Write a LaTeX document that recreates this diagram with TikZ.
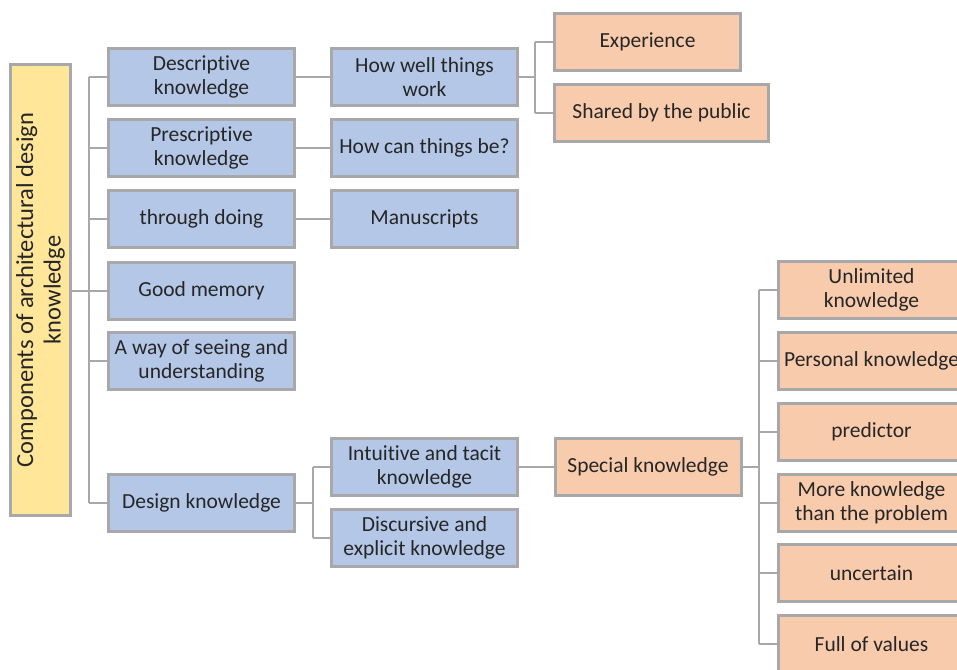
\documentclass[tikz,border=0pt]{standalone}
\usepackage{fontspec}
\setmainfont{Carlito}[Ligatures={NoCommon}]
\begin{document}
\begin{tikzpicture}[x=1pt,y=-1pt,
  font=\fontsize{21.5}{24}\selectfont,
  box/.style={draw=boxline,line width=3pt,text=txt,align=center,inner sep=0pt,
    minimum width=186pt,minimum height=57pt},
  bluebox/.style={box,fill=bluefill},
  orangebox/.style={box,fill=orangefill},
  conn/.style={draw=boxline,line width=2pt}]
\definecolor{boxline}{HTML}{A8A8AB}
\definecolor{bluefill}{HTML}{B4C7E7}
\definecolor{orangefill}{HTML}{F8CBAD}
\definecolor{yellowfill}{HTML}{FFE699}
\definecolor{txt}{HTML}{262626}
\useasboundingbox (0,0) rectangle (957,669);
\clip (0,0) rectangle (957,669);
\fill[white] (0,0) rectangle (957,669);

% root
\node[box,fill=yellowfill,minimum width=60pt,minimum height=451pt] (root) at (40.5,290) {};
\node[rotate=90,text=txt,align=center,font=\fontsize{24.5}{27.5}\selectfont]
  at (root.center) {Components of architectural design\\knowledge};

% first level
\node[bluebox] (d1) at (201.5,77) {Descriptive\\knowledge};
\node[bluebox] (d2) at (201.5,148) {Prescriptive\\knowledge};
\node[bluebox] (d3) at (201.5,219) {through doing};
\node[bluebox] (d4) at (201.5,290.5) {Good memory};
\node[bluebox] (d5) at (201.5,361) {A way of seeing and\\understanding};
\node[bluebox] (d6) at (201.5,503) {Design knowledge};

% second level
\node[bluebox] (e1) at (424.5,77) {How well things\\work};
\node[bluebox] (e2) at (424.5,148) {How can things be?};
\node[bluebox] (e3) at (424.5,219) {Manuscripts};
\node[bluebox] (e4) at (424.5,467) {Intuitive and tacit\\knowledge};
\node[bluebox] (e5) at (424.5,538) {Discursive and\\explicit knowledge};

% third level
\node[orangebox] (f1) at (647.5,42) {Experience};
\node[orangebox,minimum width=214pt] (f2) at (661.5,113) {Shared by the public};
\node[orangebox] (sp) at (648,467) {Special knowledge};

% properties of special knowledge
\node[orangebox] (g1) at (871.5,290) {Unlimited\\knowledge};
\node[orangebox] (g2) at (871.5,361) {Personal knowledge};
\node[orangebox] (g3) at (871.5,432) {predictor};
\node[orangebox] (g4) at (871.5,503) {More knowledge\\than the problem};
\node[orangebox] (g5) at (871.5,573) {uncertain};
\node[orangebox] (g6) at (871.5,644) {Full of values};

% root trunk
\draw[conn] (root.east |- d4.west) -- ++(17,0) coordinate (tr);
\draw[conn] (tr |- d1.west) -- (tr |- d6.west);
\foreach \n in {d1,d2,d3,d4,d5,d6}
  \draw[conn] (tr |- \n.west) -- (\n.west);

% straight links
\draw[conn] (d1.east) -- (e1.west);
\draw[conn] (d2.east) -- (e2.west);
\draw[conn] (d3.east) -- (e3.west);
\draw[conn] (e4.east) -- (sp.west);

% forks
\draw[conn] (e1.east) -- ++(16,0) coordinate (ta);
\draw[conn] (ta |- f1.west) -- (ta |- f2.west);
\foreach \n in {f1,f2} \draw[conn] (ta |- \n.west) -- (\n.west);

\draw[conn] (d6.east) -- ++(17,0) coordinate (tb);
\draw[conn] (tb |- e4.west) -- (tb |- e5.west);
\foreach \n in {e4,e5} \draw[conn] (tb |- \n.west) -- (\n.west);

\draw[conn] (sp.east) -- ++(16,0) coordinate (tc);
\draw[conn] (tc |- g1.west) -- (tc |- g6.west);
\foreach \n in {g1,g2,g3,g4,g5,g6} \draw[conn] (tc |- \n.west) -- (\n.west);
\end{tikzpicture}
\end{document}
